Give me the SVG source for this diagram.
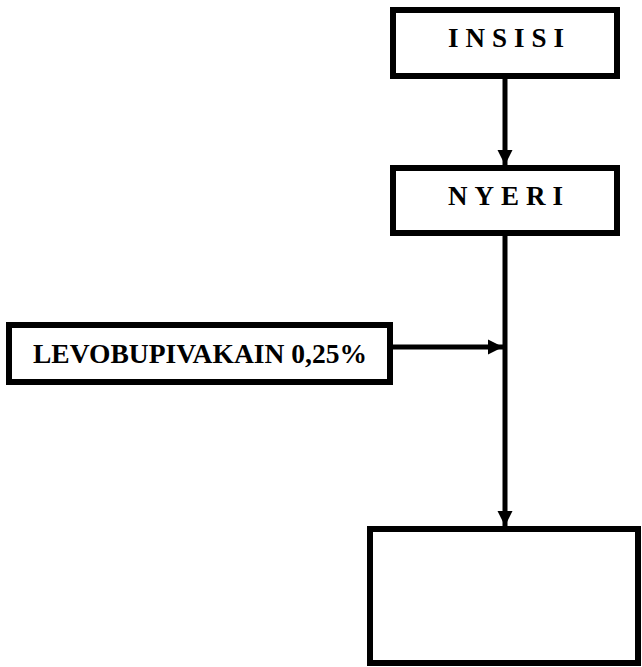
<svg xmlns="http://www.w3.org/2000/svg" width="642" height="667" viewBox="0 0 642 667">
<style>
.box{fill:#fff;stroke:#000;stroke-width:6}
.lbl{font-family:"Liberation Serif","Times New Roman",serif;font-weight:bold;font-size:27px;fill:#000}
.con{stroke:#000;stroke-width:5;fill:none}
</style>
<defs>
<marker id="ah" markerUnits="userSpaceOnUse" markerWidth="16" markerHeight="16" refX="15" refY="8" orient="auto">
<path d="M0,0.5 L15,8 L0,15.5 Z" fill="#000"/>
</marker>
</defs>
<rect width="642" height="667" fill="#fff"/>
<g id="connectors">
<line class="con" x1="505" y1="79" x2="505" y2="165" marker-end="url(#ah)"/>
<line class="con" x1="505" y1="236" x2="505" y2="526" marker-end="url(#ah)"/>
<line class="con" x1="393" y1="347" x2="503" y2="347" marker-end="url(#ah)"/>
</g>
<g id="insisi">
<rect class="box" x="393" y="10" width="224" height="66"/>
<text class="lbl" x="448" y="47" textLength="116" lengthAdjust="spacing">INSISI</text>
</g>
<g id="nyeri">
<rect class="box" x="393" y="168" width="224" height="65"/>
<text class="lbl" x="448" y="205" textLength="115" lengthAdjust="spacing">NYERI</text>
</g>
<g id="levobupivakain">
<rect class="box" x="9" y="325" width="381" height="57"/>
<text class="lbl" x="33" y="363" textLength="334" lengthAdjust="spacingAndGlyphs">LEVOBUPIVAKAIN 0,25%</text>
</g>
<g id="empty">
<rect class="box" x="370" y="529" width="268" height="134"/>
</g>
</svg>
